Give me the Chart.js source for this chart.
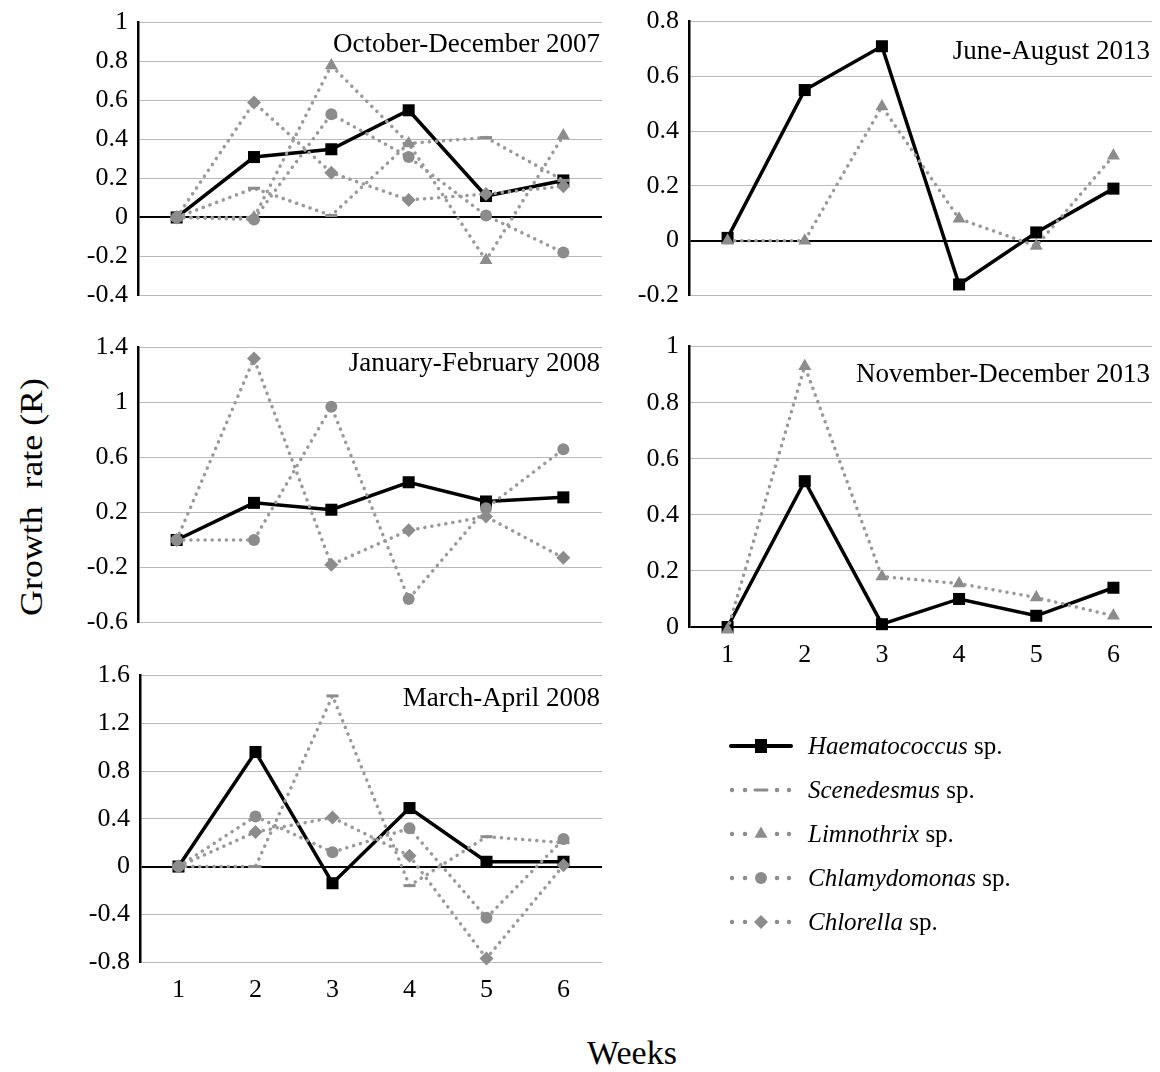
<!DOCTYPE html>
<html>
<head>
<meta charset="utf-8">
<title>Growth rate</title>
<script src="https://cdn.jsdelivr.net/npm/chart.js@4/dist/chart.umd.min.js"></script>
<style>
  html, body { margin: 0; padding: 0; background: #fff; }
  #fig { position: relative; width: 1160px; height: 1072px; overflow: hidden;
         font-family: "Liberation Serif", "Times New Roman", serif; color: #000; }
  #fig canvas.panel { position: absolute; }
  .ytitle { position: absolute; left: 31px; top: 497px; white-space: pre; font-size: 32px;
            transform: translate(-50%, -50%) rotate(-90deg) scaleX(1.12); }
  .xtitle { position: absolute; left: 632px; top: 1034px; font-size: 34px; transform: translateX(-50%); }
  .legend { position: absolute; left: 728px; top: 724px; }
  .leg-row { height: 44px; display: flex; align-items: center; font-size: 25px; white-space: nowrap; }
  .leg-row canvas { margin-right: 14px; }
</style>
</head>
<body>
<div id="fig">
  <div class="ytitle">Growth  rate (R)</div>
  <div class="xtitle">Weeks</div>
  <div class="legend" id="legend"></div>
</div>
<script>
// Wochen 1–6
var WEEKS = ['1', '2', '3', '4', '5', '6'];

// October-December 2007
var OD07_HAEM = [0, 0.31, 0.35, 0.55, 0.11, 0.19];
var OD07_SCEN = [0, 0.15, 0.01, 0.38, 0.41, 0.19];
var OD07_LIMN = [0, 0, 0.78, 0.38, -0.22, 0.42];
var OD07_CHLA = [0, -0.01, 0.53, 0.31, 0.01, -0.18];
var OD07_CHLO = [0, 0.59, 0.23, 0.09, 0.12, 0.16];

// January-February 2008
var JF08_HAEM = [0, 0.27, 0.22, 0.42, 0.28, 0.31];
var JF08_CHLA = [0, 0, 0.97, -0.43, 0.23, 0.66];
var JF08_CHLO = [0, 1.32, -0.18, 0.07, 0.17, -0.13];

// March-April 2008
var MA08_HAEM = [0, 0.96, -0.14, 0.49, 0.04, 0.04];
var MA08_SCEN = [0, 0, 1.43, -0.16, 0.25, 0.20];
var MA08_CHLA = [0, 0.42, 0.12, 0.32, -0.43, 0.23];
var MA08_CHLO = [0, 0.29, 0.41, 0.09, -0.77, 0.01];

// June-August 2013
var JA13_HAEM = [0.01, 0.55, 0.71, -0.16, 0.03, 0.19];
var JA13_LIMN = [0, 0, 0.49, 0.08, -0.02, 0.31];

// November-December 2013
var ND13_HAEM = [0, 0.52, 0.01, 0.10, 0.04, 0.14];
var ND13_LIMN = [-0.01, 0.93, 0.18, 0.155, 0.105, 0.04];

var GRAY = '#8c8c8c', DOT = '#9a9a9a';
var FONT = '"Liberation Serif", "Times New Roman", serif';

// Darstellung je Art
var ART = {
  haem: { name: 'Haematococcus', borderColor: '#000', borderWidth: 3.5, pointStyle: 'rect', pointRadius: 8.5,
          pointBackgroundColor: '#000', pointBorderWidth: 0, order: 1 },
  scen: { name: 'Scenedesmus', borderColor: DOT, borderWidth: 3.5, borderDash: [0.1, 7], borderCapStyle: 'round',
          pointStyle: 'line', pointRadius: 6, pointBorderColor: GRAY, pointBorderWidth: 3, order: 0 },
  limn: { name: 'Limnothrix', borderColor: DOT, borderWidth: 3.5, borderDash: [0.1, 7], borderCapStyle: 'round',
          pointStyle: 'triangle', pointRadius: 7.5, pointBackgroundColor: GRAY, pointBorderWidth: 0, order: 0 },
  chla: { name: 'Chlamydomonas', borderColor: DOT, borderWidth: 3.5, borderDash: [0.1, 7], borderCapStyle: 'round',
          pointStyle: 'circle', pointRadius: 6, pointBackgroundColor: GRAY, pointBorderWidth: 0, order: 0 },
  chlo: { name: 'Chlorella', borderColor: DOT, borderWidth: 3.5, borderDash: [0.1, 7], borderCapStyle: 'round',
          pointStyle: 'rectRot', pointRadius: 7, pointBackgroundColor: GRAY, pointBorderWidth: 0, order: 0 }
};
var ART_KEYS = ['haem', 'scen', 'limn', 'chla', 'chlo'];

// Panels: Lage der Zeichenfläche (l, t, r, b) und y-Skala
var PANELS = [
  { title: 'October-December 2007', dy: 29, l: 138, t: 17, r: 602, b: 301, min: -0.4, max: 1, step: 0.2, xlab: false,
    series: { haem: OD07_HAEM, scen: OD07_SCEN, limn: OD07_LIMN, chla: OD07_CHLA, chlo: OD07_CHLO } },
  { title: 'June-August 2013', dy: 37, l: 689, t: 16, r: 1152, b: 301, min: -0.2, max: 0.8, step: 0.2, xlab: false,
    series: { haem: JA13_HAEM, limn: JA13_LIMN } },
  { title: 'January-February 2008', dy: 23, l: 138, t: 342, r: 602, b: 628, min: -0.6, max: 1.4, step: 0.2, every: 2, xlab: false,
    series: { haem: JF08_HAEM, chla: JF08_CHLA, chlo: JF08_CHLO } },
  { title: 'November-December 2013', dy: 35, l: 689, t: 341, r: 1152, b: 627, min: 0, max: 1, step: 0.2, xlab: true,
    series: { haem: ND13_HAEM, limn: ND13_LIMN } },
  { title: 'March-April 2008', dy: 30, l: 140, t: 670, r: 602, b: 962, min: -0.8, max: 1.6, step: 0.4, xlab: true,
    series: { haem: MA08_HAEM, scen: MA08_SCEN, chla: MA08_CHLA, chlo: MA08_CHLO } }
];

var YW = 70, XH = 46, PAD = 20;

Chart.defaults.font.family = FONT;
Chart.defaults.font.size = 26;
Chart.defaults.color = '#000';

function fmt(v) { var r = Math.round(v * 10) / 10; return String(Math.abs(r) < 1e-9 ? 0 : r); }

// Panel-Überschrift oben rechts in der Zeichenfläche
var panelTitle = {
  id: 'panelTitle',
  afterDraw: function (chart) {
    var o = chart.options.plugins.panelTitle, a = chart.chartArea, c = chart.ctx;
    if (!o || !o.text) return;
    c.save();
    c.font = '27px ' + FONT;
    c.fillStyle = '#000'; c.textAlign = 'right'; c.textBaseline = 'alphabetic';
    c.fillText(o.text, a.right - 2, a.top + o.dy);
    c.restore();
  }
};

function datasets(p) {
  var out = [];
  ART_KEYS.forEach(function (k) {
    if (!p.series[k]) return;
    var s = Object.assign({}, ART[k]);
    delete s.name;
    s.label = ART[k].name;
    s.data = p.series[k];
    s.fill = false; s.tension = 0; s.clip = false;
    out.push(s);
  });
  return out;
}

function panel(p) {
  var cv = document.createElement('canvas');
  cv.className = 'panel';
  var w = p.r - p.l + YW + 10, h = p.b - p.t + PAD + (p.xlab ? XH : PAD);
  cv.width = w; cv.height = h;
  cv.style.left = (p.l - YW) + 'px'; cv.style.top = (p.t - PAD) + 'px';
  cv.style.width = w + 'px'; cv.style.height = h + 'px';
  document.getElementById('fig').appendChild(cv);

  new Chart(cv.getContext('2d'), {
    type: 'line',
    data: { labels: WEEKS, datasets: datasets(p) },
    plugins: [panelTitle],
    options: {
      responsive: false, animation: false, devicePixelRatio: 1,
      layout: { padding: { left: 0, top: PAD, right: 10, bottom: p.xlab ? 0 : PAD } },
      plugins: { legend: { display: false }, tooltip: { enabled: false }, panelTitle: { text: p.title, dy: p.dy } },
      scales: {
        x: {
          display: p.xlab, offset: true,
          grid: { display: false, drawTicks: false }, border: { display: false },
          ticks: { padding: 13, color: '#000', font: { family: FONT, size: 26 } },
          afterFit: function (s) { s.height = p.xlab ? XH : 0; }
        },
        y: {
          min: p.min, max: p.max,
          ticks: {
            stepSize: p.step, padding: 10, color: '#000', font: { family: FONT, size: 26 },
            callback: function (v, i) { return (p.every && i % p.every) ? '' : fmt(v); }
          },
          grid: {
            drawTicks: false,
            color: function (c) { return Math.abs(c.tick.value) < 1e-9 ? '#000' : '#b9b9b9'; },
            lineWidth: function (c) { return Math.abs(c.tick.value) < 1e-9 ? 2 : 1; }
          },
          border: { display: true, color: '#000', width: 2.5 },
          afterFit: function (s) { s.width = YW; }
        }
      }
    }
  });
}

PANELS.forEach(panel);

// Legende (Musterlinie + Marker, Artname kursiv)
function drawSample(cv, k) {
  var c = cv.getContext('2d'), cy = cv.height / 2, cx = 33, st = ART[k];
  if (k === 'haem') {
    c.strokeStyle = '#000'; c.lineWidth = 4; c.lineCap = 'round';
    c.beginPath(); c.moveTo(3, cy); c.lineTo(63, cy); c.stroke();
    c.fillStyle = '#000'; c.fillRect(cx - 6, cy - 7, 12, 14);
    return;
  }
  c.fillStyle = GRAY;
  [4, 17, 49, 61].forEach(function (x) { c.beginPath(); c.arc(x, cy, 2.2, 0, Math.PI * 2); c.fill(); });
  c.save();
  c.strokeStyle = GRAY; c.lineWidth = 3; c.lineCap = 'round';
  Chart.helpers.drawPoint(c, { pointStyle: st.pointStyle, radius: st.pointRadius, borderWidth: st.pointBorderWidth || 0, rotation: 0 }, cx, cy);
  c.restore();
}

var leg = document.getElementById('legend');
ART_KEYS.forEach(function (k) {
  var row = document.createElement('div');
  row.className = 'leg-row';
  var cv = document.createElement('canvas');
  cv.width = 66; cv.height = 22;
  row.appendChild(cv);
  var t = document.createElement('span');
  t.innerHTML = '<i>' + ART[k].name + '</i> sp.';
  row.appendChild(t);
  leg.appendChild(row);
  drawSample(cv, k);
});
</script>
</body>
</html>
